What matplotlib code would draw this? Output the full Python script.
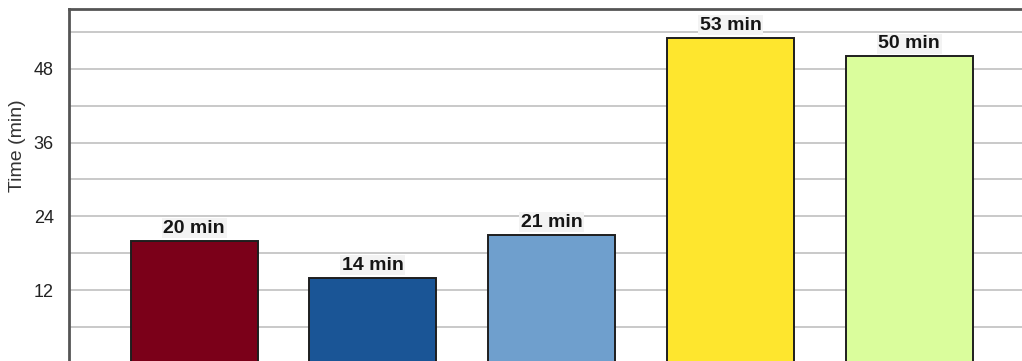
import matplotlib
matplotlib.use('Agg')
import matplotlib.pyplot as plt

# bar data
times = [20, 14, 21, 53, 50]
bar_colors = ['#7b0019', '#1a5596', '#6f9fcd', '#fee62e', '#dafd9c']
yticks_major = [12, 24, 36, 48]
yticks_minor = [6, 18, 30, 42, 54]

plt.rcParams['font.family'] = ['Liberation Sans', 'DejaVu Sans']

fig = plt.figure(figsize=(10.22, 3.61), dpi=100)
ax = fig.add_axes([0.0675, -0.0083, 0.9325, 0.9833])

pos = list(range(len(times)))
ax.bar(pos, times, width=0.71, color=bar_colors, edgecolor='#1e1e1e',
       linewidth=1.4, zorder=3)

for x, t in zip(pos, times):
    ax.annotate(f'{t} min', (x, t), xytext=(0, 3), textcoords='offset points',
                ha='center', va='bottom', fontsize=14, fontweight='bold',
                color='#151515', zorder=5, annotation_clip=False,
                bbox=dict(boxstyle='square,pad=0.08', facecolor='#f3f3f3',
                          edgecolor='none'))

ax.set_xlim(-0.70, 4.63)
ax.set_ylim(0, 57.7)
ax.set_xticks([])
ax.set_yticks(yticks_major)
ax.set_yticks(yticks_minor, minor=True)
ax.tick_params(axis='y', which='both', length=0, pad=11, labelsize=13,
               labelcolor='#222222')
ax.grid(axis='y', which='both', color='#c9c9c9', linewidth=1.4, zorder=0)

for side in ['right', 'bottom']:
    ax.spines[side].set_visible(False)
for side in ['left', 'top']:
    ax.spines[side].set_color('#555555')
    ax.spines[side].set_linewidth(2)

fig.text(17.5 / 1022, 1 - 146 / 361, 'Time (min)', rotation=90, ha='center',
         va='center', fontsize=14, color='#333333')

fig.savefig('out.png', dpi=100)
